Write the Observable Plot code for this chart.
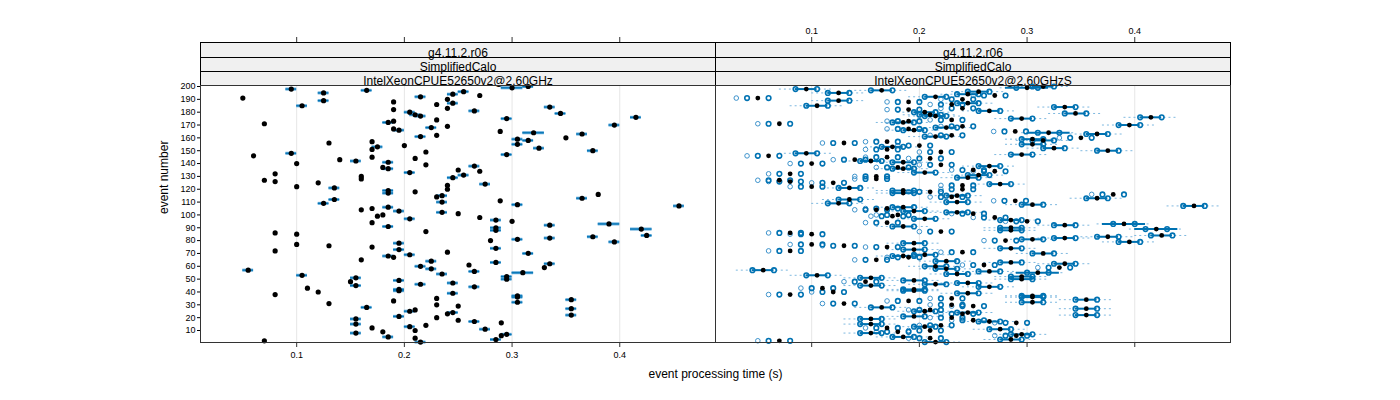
<!DOCTYPE html>
<html><head><meta charset="utf-8">
<script src="https://cdn.jsdelivr.net/npm/d3@7"></script>
<script src="https://cdn.jsdelivr.net/npm/@observablehq/plot@0.6"></script>
<style>body{margin:0;background:#fff;font-family:"Liberation Sans",Arial,sans-serif}</style>
</head><body><div id="chart"></div>
<script>
// ---- data ----
const events = [1,2,3,4,5,6,7,8,9,10,11,12,13,14,15,16,17,18,19,20,
21,22,23,24,25,26,27,28,29,30,31,32,33,34,35,36,37,38,39,40,
41,42,43,44,45,46,47,48,49,50,51,52,53,54,55,56,57,58,59,60,
61,62,63,64,65,67,68,69,70,71,72,73,74,75,76,77,78,79,80,
81,82,83,84,85,86,87,88,89,90,91,92,93,94,95,96,97,98,99,100,
101,102,103,104,105,106,107,108,109,110,111,112,113,114,115,116,117,118,119,120,
121,122,123,124,125,126,127,128,129,130,131,132,133,134,135,136,137,138,139,140,
141,142,143,144,145,146,147,148,149,150,151,152,153,154,155,156,157,158,159,160,
161,162,163,164,165,166,167,168,169,170,171,172,173,174,175,176,177,178,179,180,
181,182,183,184,185,186,187,188,189,190,191,192,193,194,195,196,197,198,199,200];
const times = [0.215,0.070,0.285,0.210,0.185,0.290,0.295,0.155,0.180,0.210,0.275,0.170,0.205,0.220,0.155,0.290,0.265,0.250,0.155,0.230,
0.195,0.355,0.240,0.245,0.205,0.210,0.355,0.165,0.250,0.230,0.130,0.305,0.190,0.355,0.230,0.305,0.305,0.080,0.245,0.120,
0.195,0.195,0.110,0.265,0.155,0.215,0.245,0.150,0.195,0.295,0.155,0.295,0.105,0.235,0.310,0.265,0.055,0.225,0.330,0.215,
0.260,0.335,0.285,0.225,0.160,0.190,0.185,0.205,0.315,0.240,0.080,0.195,0.285,0.170,0.130,0.100,0.195,0.395,0.280,
0.305,0.335,0.375,0.425,0.100,0.080,0.220,0.285,0.420,0.285,0.185,0.335,0.390,0.170,0.300,0.285,0.205,0.270,0.175,0.180,
0.250,0.235,0.195,0.160,0.170,0.185,0.455,0.305,0.125,0.235,0.289,0.135,0.365,0.230,0.235,0.380,0.185,0.210,0.185,0.240,
0.135,0.100,0.240,0.275,0.120,0.080,0.070,0.160,0.245,0.160,0.255,0.080,0.205,0.270,0.250,0.185,0.180,0.265,0.220,0.100,
0.185,0.155,0.140,0.210,0.170,0.060,0.295,0.095,0.220,0.375,0.170,0.325,0.175,0.200,0.305,0.130,0.170,0.315,0.305,0.350,
0.215,0.230,0.365,0.320,0.289,0.195,0.190,0.225,0.240,0.395,0.070,0.185,0.190,0.230,0.295,0.415,0.215,0.210,0.345,0.205,
0.265,0.190,0.240,0.335,0.105,0.230,0.245,0.190,0.125,0.240,0.050,0.215,0.270,0.245,0.125,0.255,0.165,0.095,0.300,0.315];
const errs = [0.005,0,0.005,0,0.005,0,0.005,0.005,0,0,0.005,0,0.005,0,0.005,0,0.005,0,0.005,0,
0.005,0.005,0,0.005,0.005,0,0.005,0.005,0,0,0,0.005,0,0.005,0,0.005,0.005,0,0.005,0,
0.005,0.005,0,0.005,0.005,0.005,0.005,0,0.005,0.005,0.005,0.005,0.005,0.005,0.010,0.005,0.005,0.005,0,0.005,
0,0.005,0.005,0.005,0,0,0.005,0.005,0.005,0,0,0.005,0.005,0,0,0,0.005,0.005,0,
0.005,0.005,0.005,0.005,0,0,0,0.005,0.010,0.005,0.005,0.005,0.010,0,0,0.005,0.005,0,0,0,
0,0.005,0.005,0,0,0.005,0.005,0.005,0.005,0.005,0,0.005,0.005,0,0.005,0,0.005,0,0.005,0,
0.005,0,0,0.005,0,0,0,0,0.005,0,0.005,0,0.005,0,0,0.005,0,0.005,0,0,
0.005,0.005,0,0,0,0,0.005,0.005,0,0.005,0,0.005,0.005,0,0.005,0,0,0.005,0.005,0,
0.005,0,0.005,0.010,0,0.005,0,0.005,0,0.005,0,0.005,0,0,0.005,0.005,0.005,0.005,0.005,0.005,
0.005,0,0,0.005,0.005,0,0.005,0,0.005,0,0,0.005,0,0.005,0.005,0.005,0.005,0.005,0.010,0.005];
const panels = ["IntelXeonCPUE52650v2@2.60GHz", "IntelXeonCPUE52650v2@2.60GHzS"];
const stripVersion = "g4.11.2.r06";
const stripTest = "SimplifiedCalo";
const xTicks = [0.1, 0.2, 0.3, 0.4];
const xTickLabels = ["0.1", "0.2", "0.3", "0.4"];
const yTicks = [10,20,30,40,50,60,70,80,90,100,110,120,130,140,150,160,170,180,190,200];
// shifted replicas shown in the second panel (offsets from each event's time)
const ringOffsetsAll = [-0.01, 0.01];
const ringOffsetsQuiet = [-0.02];
const spreadOffsets = [-0.025, 0.025];
const xTitle = "event processing time (s)";
const yTitle = "event number";

// ---- tables ----
const left = events.map((e, i) => ({panel: panels[0], event: e, t: times[i], lo: times[i] - errs[i], hi: times[i] + errs[i]}));
const right = events.map((e, i) => ({panel: panels[1], event: e, t: times[i], lo: times[i] - 2 * errs[i], hi: times[i] + 2 * errs[i], err: errs[i]}));
const spreads = right.filter(d => d.err > 0).map(d => ({panel: d.panel, event: d.event, lo: d.t + spreadOffsets[0], hi: d.t + spreadOffsets[1]}));
const darkRings = right.flatMap(d => ringOffsetsAll.map(o => ({panel: d.panel, event: d.event, t: d.t + o})));
const lightRings = right.filter(d => d.err === 0).flatMap(d => ringOffsetsQuiet.map(o => ({panel: d.panel, event: d.event, t: d.t + o})));
const strip3 = panels.map(p => ({panel: p, label: p}));
const topTicks = xTicks.map((t, i) => ({panel: panels[1], t, label: xTickLabels[i]}));
const bottomTicks = xTicks.map((t, i) => ({panel: panels[0], t, label: xTickLabels[i]}));

const blue = "#0072B2";
const FH = 257; // frame height in px
const chart = Plot.plot({
  width: 1400, height: 400,
  marginLeft: 199, marginRight: 170, marginTop: 85, marginBottom: 58,
  style: {fontFamily: "'Liberation Sans', Arial, sans-serif", fontSize: "9px", background: "white"},
  fx: {domain: panels, padding: 0, axis: null, label: null},
  x: {domain: [0.0107, 0.4889], axis: null},
  y: {domain: [0.66, 200.78]},
  marks: [
    // strips
    Plot.frame({fill: "#f0f0f0", stroke: "#000", insetTop: -43, insetBottom: FH + 43 - 15}),
    Plot.frame({fill: "#f0f0f0", stroke: "#000", insetTop: -28, insetBottom: FH + 28 - 14}),
    Plot.frame({fill: "#f0f0f0", stroke: "#000", insetTop: -14, insetBottom: FH}),
    Plot.text([stripVersion], {frameAnchor: "top", dy: -37.5, fontSize: 12, fill: "#000"}),
    Plot.text([stripTest], {frameAnchor: "top", dy: -23, fontSize: 12, fill: "#000"}),
    Plot.text(strip3, {fx: "panel", text: "label", frameAnchor: "top", dy: -9, fontSize: 12, fill: "#000"}),
    // grid
    Plot.ruleX(xTicks, {stroke: "#e6e6e6", strokeWidth: 1}),
    // left panel
    Plot.ruleY(left, {fx: "panel", y: "event", x1: "lo", x2: "hi", stroke: "#5aa7d9", strokeWidth: 3}),
    Plot.ruleY(left, {fx: "panel", y: "event", x1: "lo", x2: "hi", stroke: blue, strokeWidth: 1.2}),
    Plot.dot(left, {fx: "panel", x: "t", y: "event", r: 2.6, fill: "#000", stroke: null}),
    // right panel
    Plot.ruleY(spreads, {fx: "panel", y: "event", x1: "lo", x2: "hi", stroke: "#7fb9e0", strokeWidth: 1, strokeDasharray: "2,3"}),
    Plot.dot(lightRings, {fx: "panel", x: "t", y: "event", r: 2.3, stroke: "#3d93cc", strokeWidth: 1, fill: "none"}),
    Plot.dot(darkRings, {fx: "panel", x: "t", y: "event", r: 2.3, stroke: blue, strokeWidth: 1.6, fill: "none"}),
    Plot.ruleY(right.filter(d => d.err > 0), {fx: "panel", y: "event", x1: "lo", x2: "hi", stroke: blue, strokeWidth: 2}),
    Plot.dot(right, {fx: "panel", x: "t", y: "event", r: 2.4, fill: "#000", stroke: null}),
    // frame
    Plot.frame({stroke: "#333", strokeWidth: 1}),
    // axes
    Plot.axisY(yTicks, {tickSize: 3, tickPadding: 2, fontSize: 9, label: null}),
    Plot.tickX(xTicks, {x: d => d, stroke: "#333", insetTop: -48, insetBottom: FH + 43}),
    Plot.text(topTicks, {fx: "panel", x: "t", text: "label", frameAnchor: "top", dy: -58, fontSize: 9, fill: "#000"}),
    Plot.tickX(xTicks, {x: d => d, stroke: "#333", insetTop: FH, insetBottom: -5}),
    Plot.text(bottomTicks, {fx: "panel", x: "t", text: "label", frameAnchor: "bottom", dy: 15, fontSize: 9, fill: "#000"}),
    Plot.text([{panel: panels[0], label: yTitle}], {fx: "panel", text: "label", frameAnchor: "left", dx: -36, rotate: -90, fontSize: 12, fill: "#000"}),
    Plot.text([{panel: panels[0], label: xTitle}], {fx: "panel", text: "label", frameAnchor: "bottom-right", dy: 35, textAnchor: "middle", fontSize: 12, fill: "#000"})
  ]
});
document.getElementById("chart").appendChild(chart);
</script></body></html>
